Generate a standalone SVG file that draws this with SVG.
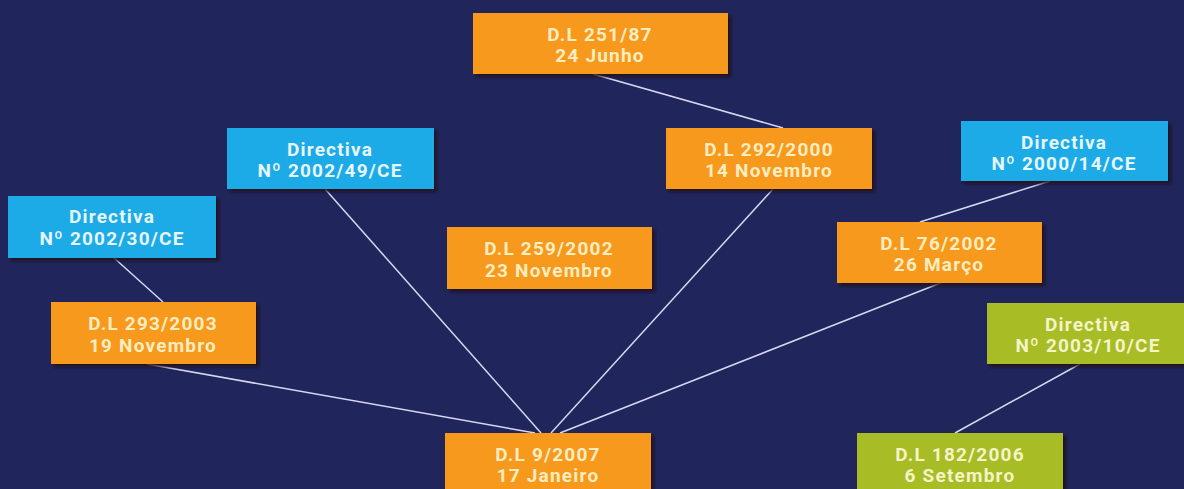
<svg xmlns="http://www.w3.org/2000/svg" width="1184" height="489" viewBox="0 0 1184 489">
<defs>
<filter id="sh" x="-10%" y="-20%" width="130%" height="150%">
<feDropShadow dx="3" dy="3" stdDeviation="1.5" flood-color="#1a0812" flood-opacity="0.85"/>
</filter>
</defs>
<style>
.bx{filter:url(#sh)}
.o{fill:#f7991f}
.b{fill:#1aabe6}
.g{fill:#a8bc26}
text{font-family:Roboto,"Liberation Sans",sans-serif;font-weight:bold;font-size:19px;letter-spacing:1.2px;text-anchor:middle}
.to{fill:#fdedc0}
.tb{fill:#e6f6fc}
.tg{fill:#f4f4c6}
.c line{stroke:#d6d8f2;stroke-width:1.5}
</style>
<rect width="1184" height="489" fill="#20265b"/>
<g id="connectors" class="c">
<line x1="593" y1="74" x2="783" y2="128"/>
<line x1="113" y1="257" x2="163" y2="302"/>
<line x1="1050" y1="181" x2="920" y2="222"/>
<line x1="1080" y1="364" x2="955" y2="433"/>
<line x1="147" y1="364" x2="535" y2="433"/>
<line x1="325" y1="189" x2="541" y2="433"/>
<line x1="773" y1="189" x2="551" y2="433"/>
<line x1="943" y1="282" x2="560" y2="433"/>
</g>
<g id="n-251-87"><rect class="bx o" x="473" y="13" width="255" height="61"/><text class="to" x="600" y="41">D.L 251/87</text><text class="to" x="600" y="62">24 Junho</text></g>
<g id="n-2002-49"><rect class="bx b" x="227" y="128" width="207" height="61"/><text class="tb" x="330" y="156">Directiva</text><text class="tb" x="330" y="177">Nº 2002/49/CE</text></g>
<g id="n-292-2000"><rect class="bx o" x="666" y="128" width="206" height="61"/><text class="to" x="769" y="156">D.L 292/2000</text><text class="to" x="769" y="177">14 Novembro</text></g>
<g id="n-2000-14"><rect class="bx b" x="961" y="121" width="207" height="60"/><text class="tb" x="1064" y="149">Directiva</text><text class="tb" x="1064" y="170">Nº 2000/14/CE</text></g>
<g id="n-2002-30"><rect class="bx b" x="8" y="196" width="208" height="62"/><text class="tb" x="112" y="223">Directiva</text><text class="tb" x="112" y="245">Nº 2002/30/CE</text></g>
<g id="n-259-2002"><rect class="bx o" x="447" y="227" width="205" height="62"/><text class="to" x="549" y="255">D.L 259/2002</text><text class="to" x="549" y="277">23 Novembro</text></g>
<g id="n-76-2002"><rect class="bx o" x="837" y="222" width="205" height="61"/><text class="to" x="939" y="250">D.L 76/2002</text><text class="to" x="939" y="271">26 Março</text></g>
<g id="n-293-2003"><rect class="bx o" x="51" y="302" width="205" height="62"/><text class="to" x="153" y="330">D.L 293/2003</text><text class="to" x="153" y="352">19 Novembro</text></g>
<g id="n-2003-10"><rect class="bx g" x="987" y="303" width="205" height="61"/><text class="tg" x="1088" y="331">Directiva</text><text class="tg" x="1088" y="352">Nº 2003/10/CE</text></g>
<g id="n-9-2007"><rect class="bx o" x="445" y="433" width="206" height="62"/><text class="to" x="548" y="461">D.L 9/2007</text><text class="to" x="548" y="482">17 Janeiro</text></g>
<g id="n-182-2006"><rect class="bx g" x="857" y="433" width="206" height="62"/><text class="tg" x="960" y="461">D.L 182/2006</text><text class="tg" x="960" y="482">6 Setembro</text></g>
</svg>
